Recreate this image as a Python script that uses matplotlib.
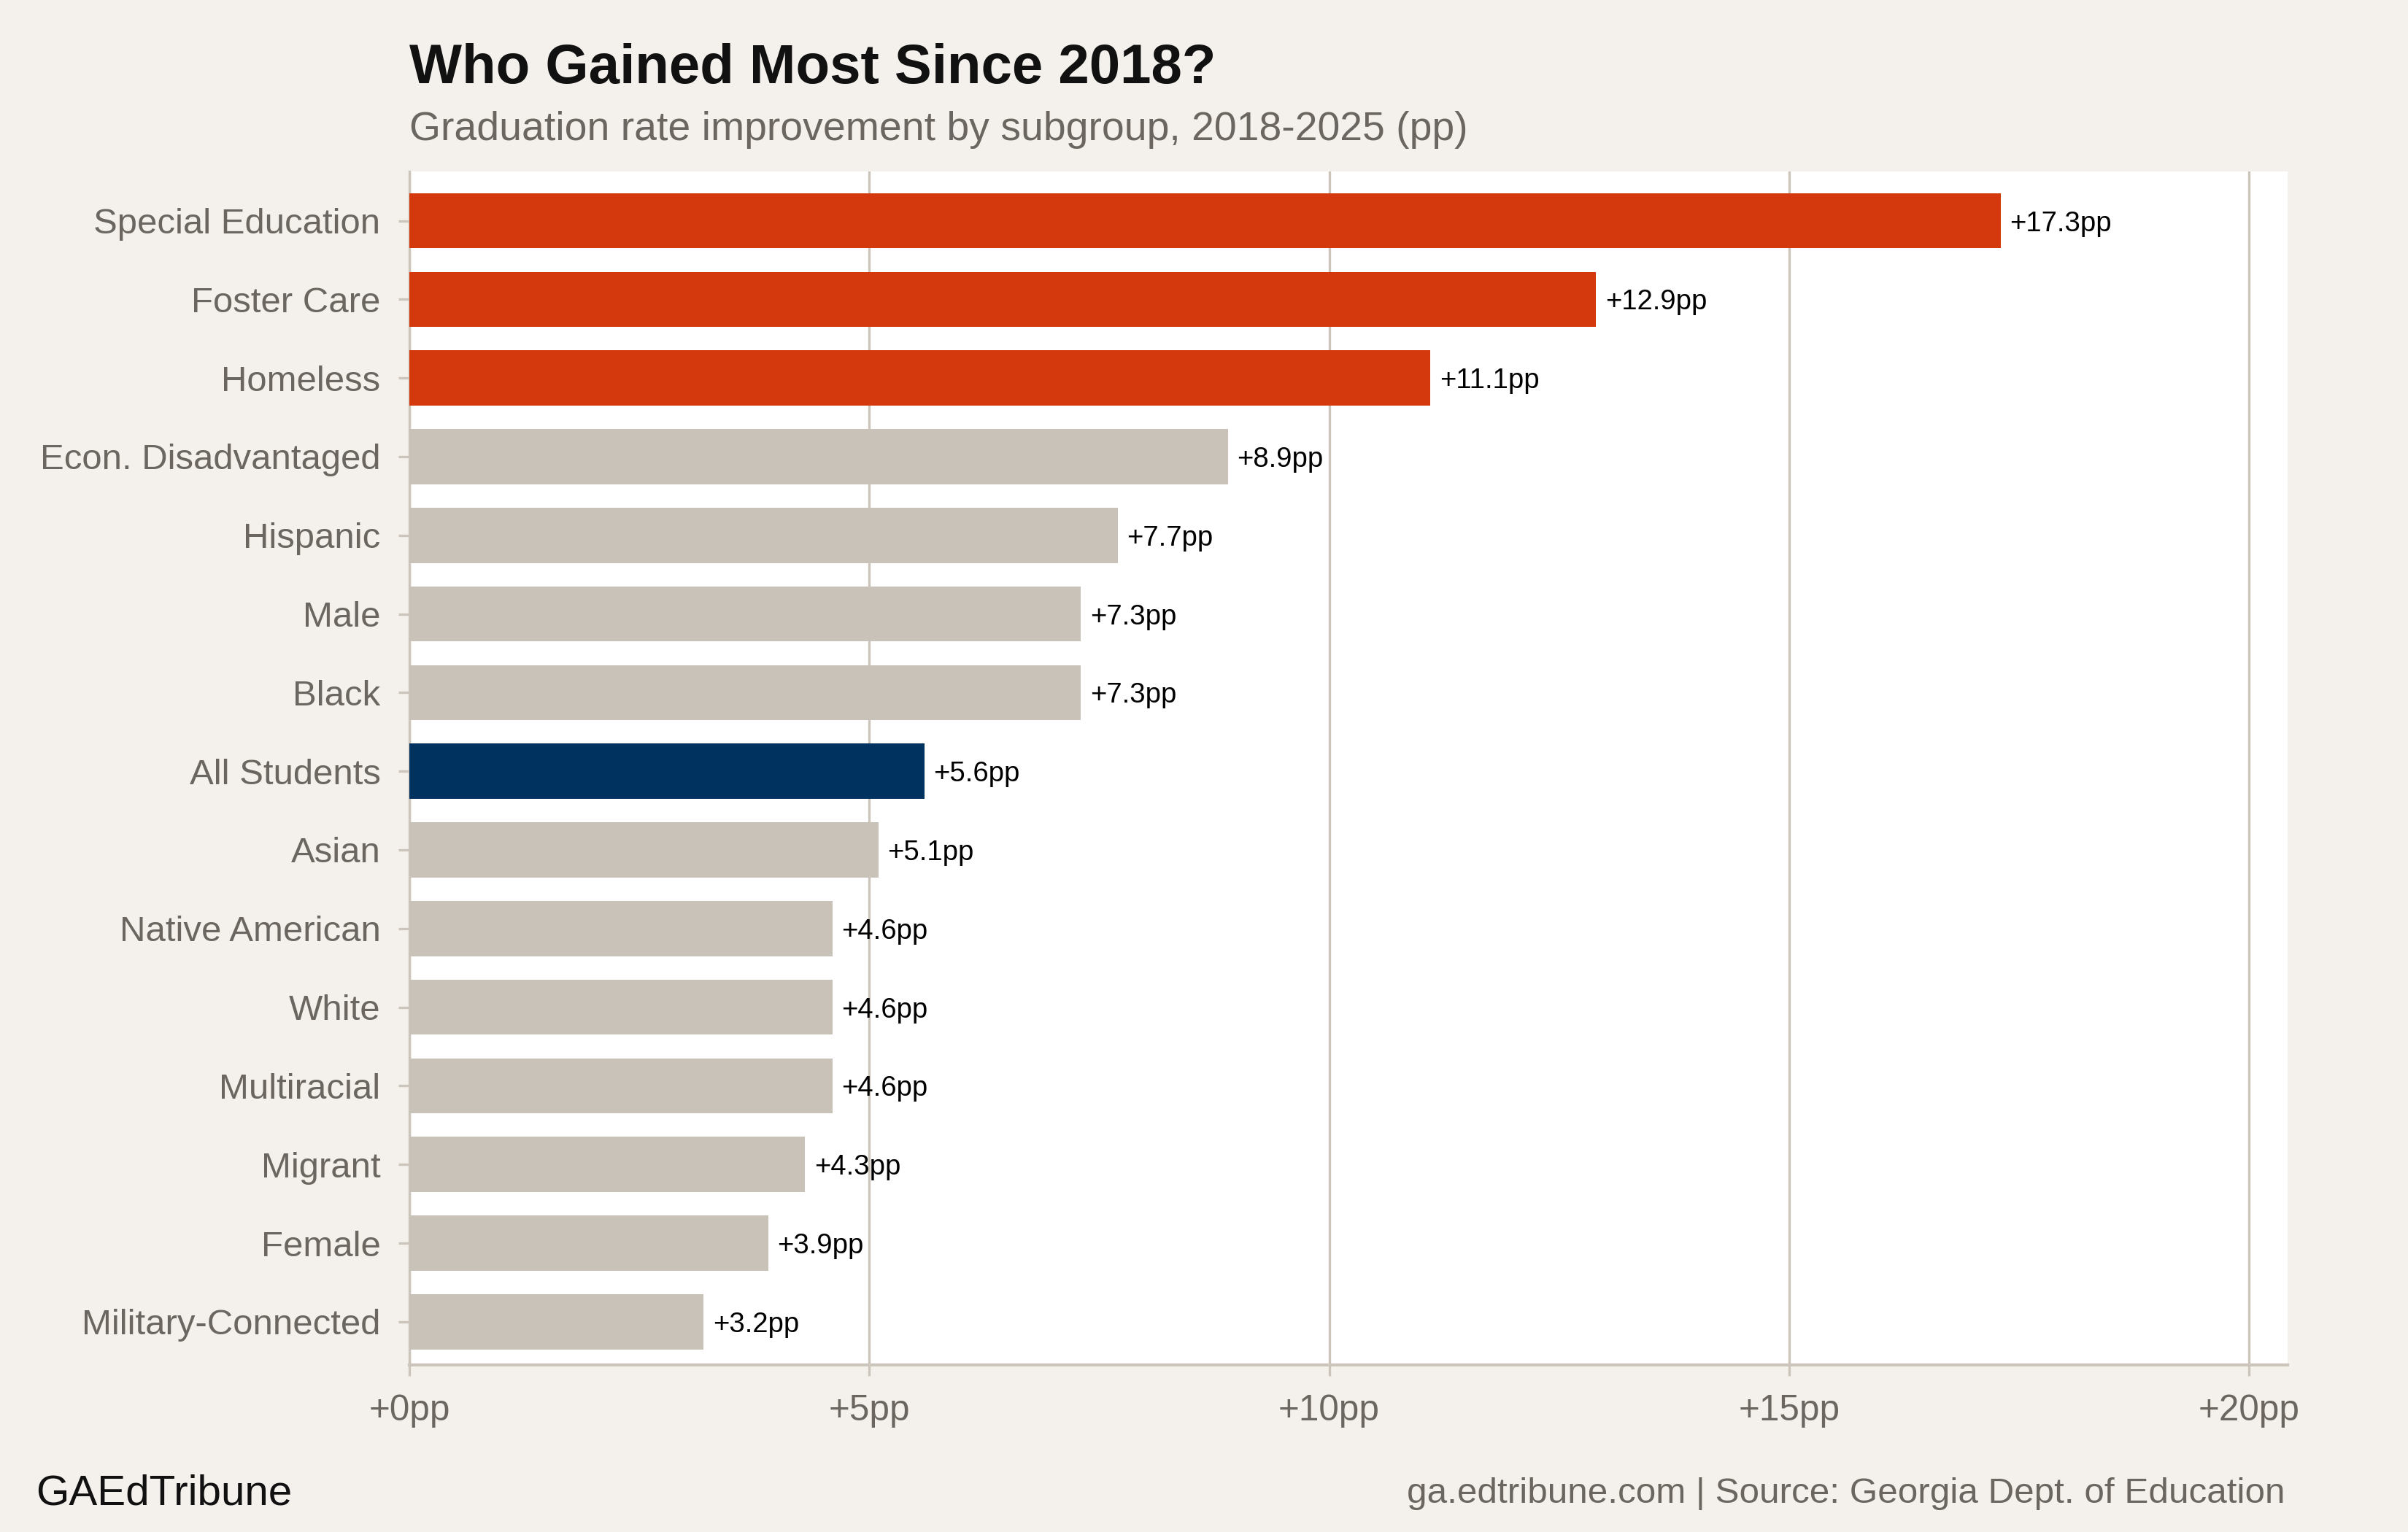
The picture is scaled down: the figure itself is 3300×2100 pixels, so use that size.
import matplotlib
matplotlib.use("Agg")
import matplotlib.pyplot as plt

# data
groups = ['Special Education', 'Foster Care', 'Homeless', 'Econ. Disadvantaged', 'Hispanic',
          'Male', 'Black', 'All Students', 'Asian', 'Native American', 'White',
          'Multiracial', 'Migrant', 'Female', 'Military-Connected']
gains = [17.3, 12.9, 11.1, 8.9, 7.7, 7.3, 7.3, 5.6, 5.1, 4.6, 4.6, 4.6, 4.3, 3.9, 3.2]
highlight = ['Special Education', 'Foster Care', 'Homeless']
overall = 'All Students'
xticks = [0, 5, 10, 15, 20]

RED = '#D4380D'
NAVY = '#00325F'
GREY = '#C9C2B8'
BG = '#F4F1EC'
TXT = '#6B6760'
LINE = '#CBC5BB'

plt.rcParams['font.family'] = ['Liberation Sans', 'DejaVu Sans']

fig = plt.figure(figsize=(11, 7), dpi=300, facecolor=BG)
ax = fig.add_axes([0.170, 0.109, 0.780, 0.779])
ax.set_facecolor('white')

colors = []
for g in groups:
    if g in highlight:
        colors.append(RED)
    elif g == overall:
        colors.append(NAVY)
    else:
        colors.append(GREY)

pos = list(range(len(groups)))
ax.barh(pos, gains, height=0.7, color=colors, zorder=3)

# value labels next to the bars
for p, v in zip(pos, gains):
    ax.text(v + 0.1, p, '+%.1fpp' % v, va='center_baseline', ha='left', fontsize=9.2,
            color='black', zorder=4)

ax.set_xlim(0, 20.42)
ax.set_ylim(len(groups) - 1 + 0.55, -0.625)
ax.set_yticks(pos)
ax.set_yticklabels(groups)
ax.set_xticks(xticks)
ax.set_xticklabels(['+%dpp' % t for t in xticks])

ax.grid(axis='x', color=LINE, linewidth=0.8, zorder=0)
ax.grid(axis='y', visible=False)
for s in ['top', 'right']:
    ax.spines[s].set_visible(False)
ax.spines['left'].set_color(LINE)
ax.spines['left'].set_linewidth(0.8)
ax.spines['bottom'].set_color(LINE)
ax.spines['bottom'].set_linewidth(1.0)
ax.tick_params(axis='both', colors=LINE, labelcolor=TXT, length=3.5, width=0.8)
ax.tick_params(axis='x', pad=6, labelsize=11.9)
ax.tick_params(axis='y', pad=6, labelsize=11.8)

fig.text(0.170, 0.955, 'Who Gained Most Since 2018?', fontsize=18.3, fontweight='bold',
         color='#111111', ha='left', va='center')
fig.text(0.170, 0.915, 'Graduation rate improvement by subgroup, 2018-2025 (pp)', fontsize=13.3,
         color=TXT, ha='left', va='center')
fig.text(0.015, 0.025, 'GAEdTribune', fontsize=14, color='#111111', ha='left', va='center')
fig.text(0.949, 0.025, 'ga.edtribune.com | Source: Georgia Dept. of Education', fontsize=11.85,
         color=TXT, ha='right', va='center')

fig.savefig('out.png', dpi=300, facecolor=BG)
